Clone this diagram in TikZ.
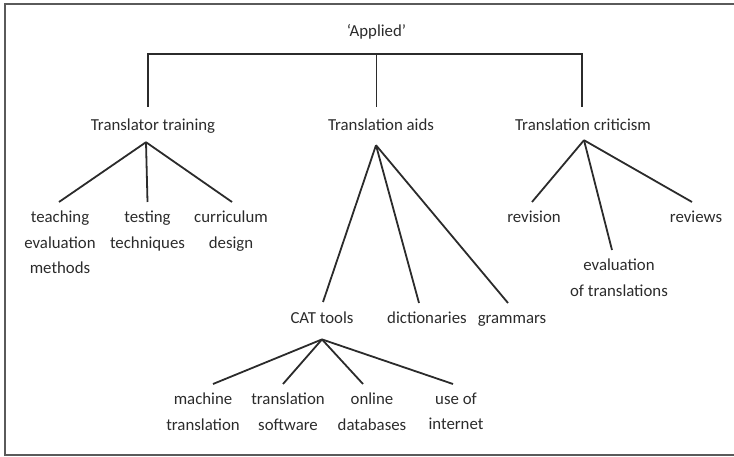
\documentclass[tikz,border=0pt]{standalone}
\usepackage{fontspec}
\setmainfont{Carlito}
\definecolor{ink}{HTML}{2B2B2B}
\definecolor{framecol}{HTML}{5A5A5A}
\begin{document}
\begin{tikzpicture}[x=1pt,y=-1pt,
  txt/.style={font=\fontsize{16.8}{25.5}\selectfont, text=ink, align=center, inner xsep=0pt},
  head/.style={txt, anchor=base, text height=13pt, text depth=0pt, inner ysep=11pt},
  leaf/.style={txt, anchor=north, inner ysep=8.7pt, execute at begin node={\vphantom{Ahl}}},
  link/.style={draw=ink, line width=1.8pt},
  frame/.style={draw=framecol, line width=1.3pt}]
\useasboundingbox (0,0) rectangle (734,457);
\draw[frame] (734,4) -- (5,4) -- (5,455) -- (734,455);

\node[txt, anchor=base] (applied) at (376.5,37) {‘Applied’};
\node[head] (tt) at (153,131) {Translator training};
\node[head] (ta) at (381,131) {Translation aids};
\node[head] (tc) at (583,131) {Translation criticism};
\coordinate (bar) at (376.5,54);
\draw[link] ([xshift=-5pt]tt.north) |- (bar) -| ([xshift=-1pt]tc.north);
\draw[link] (bar) -- ([xshift=-4.5pt]ta.north);

\node[leaf] (teach) at (60,202) {teaching\\evaluation\\methods};
\node[leaf] (test) at (147.5,202) {testing\\techniques};
\node[leaf] (curr) at (231,202) {curriculum\\design};
\draw[link] ([xshift=-7pt]tt.south) -- ([xshift=-1pt]teach.north);
\draw[link] ([xshift=-7pt]tt.south) -- (test.north);
\draw[link] ([xshift=-7pt]tt.south) -- ([xshift=1pt]curr.north);

\node[txt, anchor=north, text height=12pt, text depth=7pt, inner ysep=9pt] (cat) at (322,302) {CAT tools};
\node[leaf] (dict) at (427,303) {dictionaries};
\node[leaf] (gram) at (512,303) {grammars};
\draw[link] ([xshift=-5pt,yshift=-3pt]ta.south) -- ([xshift=1pt]cat.north);
\draw[link] ([xshift=-5pt,yshift=-3pt]ta.south) -- ([xshift=-8pt]dict.north);
\draw[link] ([xshift=-5pt,yshift=-3pt]ta.south) -- ([xshift=-4pt]gram.north);

\node[leaf] (rev) at (534,202) {revision};
\node[leaf] (revs) at (696,202) {reviews};
\node[leaf] (evt) at (619,250) {evaluation\\of translations};
\draw[link] ([xshift=1pt,yshift=2pt]tc.south) -- ([xshift=-2pt]rev.north);
\draw[link] ([xshift=1pt,yshift=2pt]tc.south) -- ([xshift=-4pt]revs.north);
\draw[link] ([xshift=1pt,yshift=2pt]tc.south) -- ([xshift=-7pt]evt.north);

\node[leaf] (mach) at (203,384) {machine\\translation};
\node[leaf] (tsw) at (288,384) {translation\\software};
\node[leaf] (odb) at (372,384) {online\\databases};
\node[leaf] (uoi) at (456,384) {use of\\internet};
\draw[link] (cat.south) -- ([xshift=10pt]mach.north);
\draw[link] (cat.south) -- ([xshift=-5pt]tsw.north);
\draw[link] (cat.south) -- ([xshift=-9pt]odb.north);
\draw[link] (cat.south) -- ([xshift=-3pt]uoi.north);
\end{tikzpicture}
\end{document}
